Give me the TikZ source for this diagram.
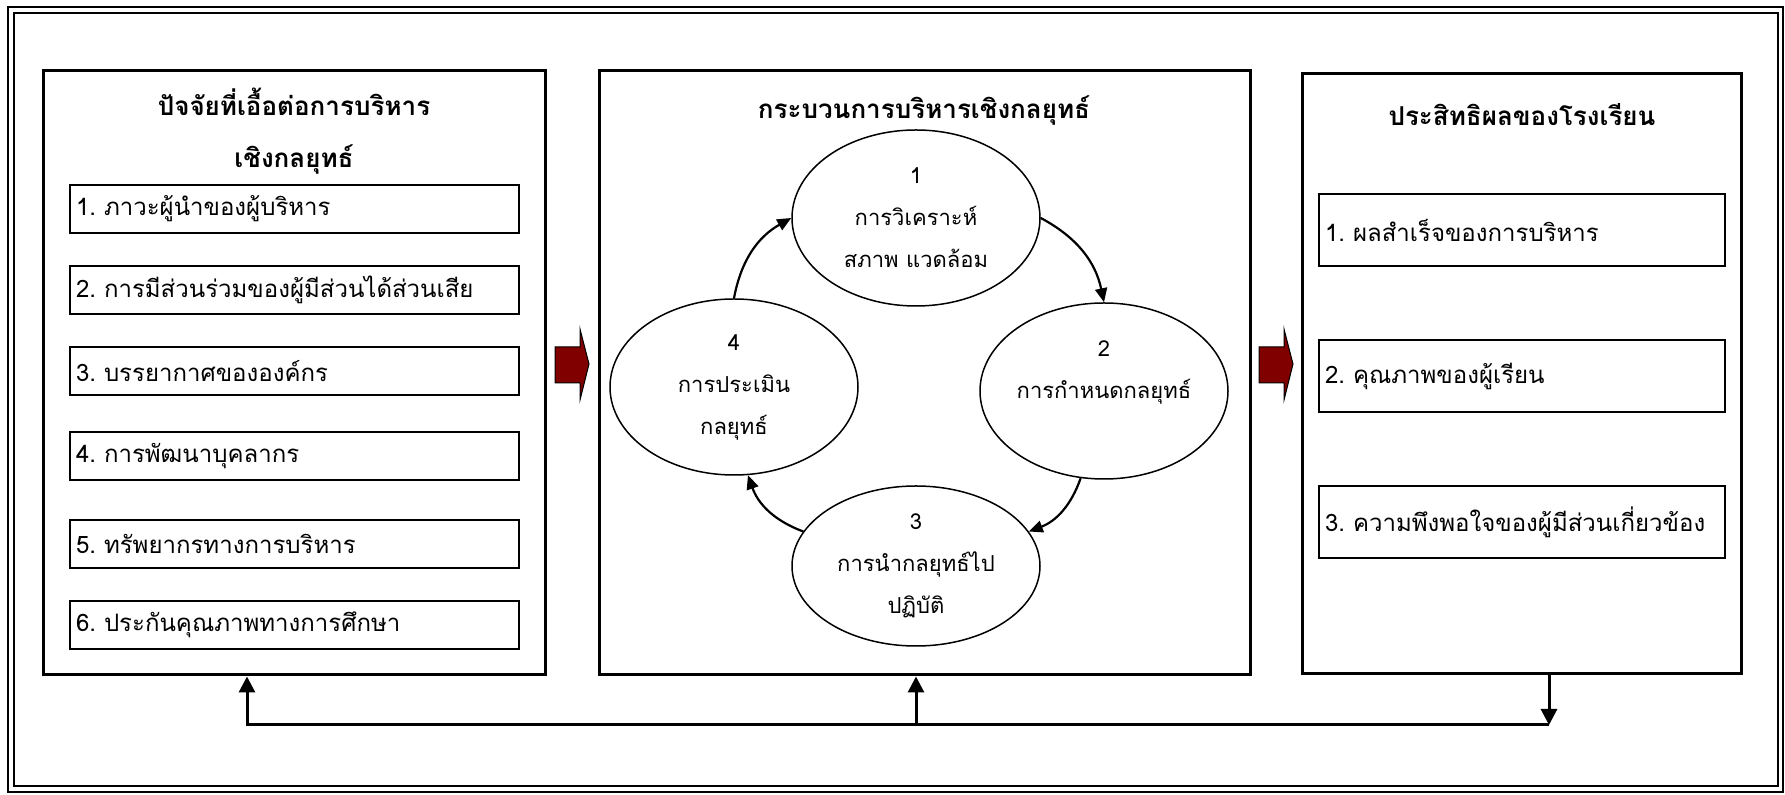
\documentclass[tikz,border=0pt]{standalone}
\usepackage{fontspec}
\newfontfamily\thaifont[Script=Thai]{Loma}
\usepackage{tikz}
\usetikzlibrary{shapes.geometric, arrows.meta, positioning}
\definecolor{maroon}{RGB}{128,0,0}

\begin{document}
\begin{tikzpicture}[x=0.5pt, y=-0.5pt,
	frame/.style={draw, line width=1.25pt},
	panel/.style={draw, line width=1.5pt, inner sep=0pt},
	ptitle/.style={font=\thaifont\bfseries\fontsize{13}{26}\selectfont, align=center},
	item/.style={draw, line width=1pt, font=\thaifont\fontsize{12}{14}\selectfont,
		align=left, inner sep=3pt},
	stage/.style={draw, ellipse, line width=0.75pt, inner sep=0pt, align=center,
		minimum width=124pt, minimum height=88pt, font=\thaifont\fontsize{11}{21}\selectfont},
	cyc/.style={line width=1.1pt, -{Triangle[length=7pt,width=6pt]}},
	conn/.style={line width=1.5pt, -{Triangle[length=8pt,width=8pt]}},
	bigarrow/.style={fill=maroon, draw=black, line width=0.5pt}]
\useasboundingbox (0,0) rectangle (1785,795);
% double frame
\draw[frame] (8,7) rectangle (1783,792);
\draw[frame] (14,13) rectangle (1778,786);

% three panels
\node[panel, minimum width=251pt, minimum height=302pt] (fac) at (294,373) {};
\node[panel, minimum width=325.5pt, minimum height=302pt] (proc) at (924.5,373) {};
\node[panel, minimum width=219.5pt, minimum height=300pt] (res) at (1521.5,374) {};

\node[ptitle] (factitle) at (294,131) {ปัจจัยที่เอื้อต่อการบริหาร\\เชิงกลยุทธ์};
\node[ptitle] (proctitle) at (924,110) {กระบวนการบริหารเชิงกลยุทธ์};
\node[ptitle] (restitle) at (1522,115) {ประสิทธิผลของโรงเรียน};

% factors
\node[item, text width=218.5pt, minimum height=24pt] (f1) at (294.5,209) {1.~ภาวะผู้นำของผู้บริหาร};
\node[item, text width=218.5pt, minimum height=24pt] (f2) at (294.5,290) {2.~การมีส่วนร่วมของผู้มีส่วนได้ส่วนเสีย};
\node[item, text width=218.5pt, minimum height=24pt] (f3) at (294.5,371) {3.~บรรยากาศขององค์กร};
\node[item, text width=218.5pt, minimum height=24pt] (f4) at (294.5,456) {4.~การพัฒนาบุคลากร};
\node[item, text width=218.5pt, minimum height=24pt] (f5) at (294.5,544) {5.~ทรัพยากรทางการบริหาร};
\node[item, text width=218.5pt, minimum height=24pt] (f6) at (294.5,625) {6.~ประกันคุณภาพทางการศึกษา};

% results
\node[item, text width=197pt, minimum height=36pt] (r1) at (1522,230) {1.~ผลสำเร็จของการบริหาร};
\node[item, text width=197pt, minimum height=36pt] (r2) at (1522,376) {2.~คุณภาพของผู้เรียน};
\node[item, text width=197pt, minimum height=36pt] (r3) at (1522,522) {3.~ความพึงพอใจของผู้มีส่วนเกี่ยวข้อง};

% cycle
\node[stage] (s1) at (916,218) {1\\การวิเคราะห์\\สภาพ แวดล้อม};
\node[stage] (s2) at (1104,391) {2\\การกำหนดกลยุทธ์\\{}};
\node[stage, minimum height=80pt] (s3) at (916,566) {3\\การนำกลยุทธ์ไป\\ปฏิบัติ};
\node[stage] (s4) at (734,387) {4\\การประเมิน\\กลยุทธ์};
\draw[cyc] (s4.north) to[bend left=25] (s1.west);
\draw[cyc] (s1.east) to[bend left=25] (s2.north);
\draw[cyc] (s2.-105) to[bend left=25] (s3.17);
\draw[cyc] (s3.163) to[bend left=25] (s4.-81);

% block arrows
\foreach \ax in {555,1259}
	\filldraw[bigarrow] (\ax,347) -- (\ax+25,347) -- (\ax+25,329) -- (\ax+34,364)
		-- (\ax+25,400) -- (\ax+25,383) -- (\ax,383) -- cycle;

% feedback
\coordinate (r) at (1549,725);
\coordinate (l) at (247,725);
\coordinate (c) at (916,725);
\draw[conn] (res.south -| r) -- (r);
\draw[conn] (r) -- (l) -- (fac.south -| l);
\draw[conn] (c) -- (proc.south -| c);
\end{tikzpicture}
\end{document}
